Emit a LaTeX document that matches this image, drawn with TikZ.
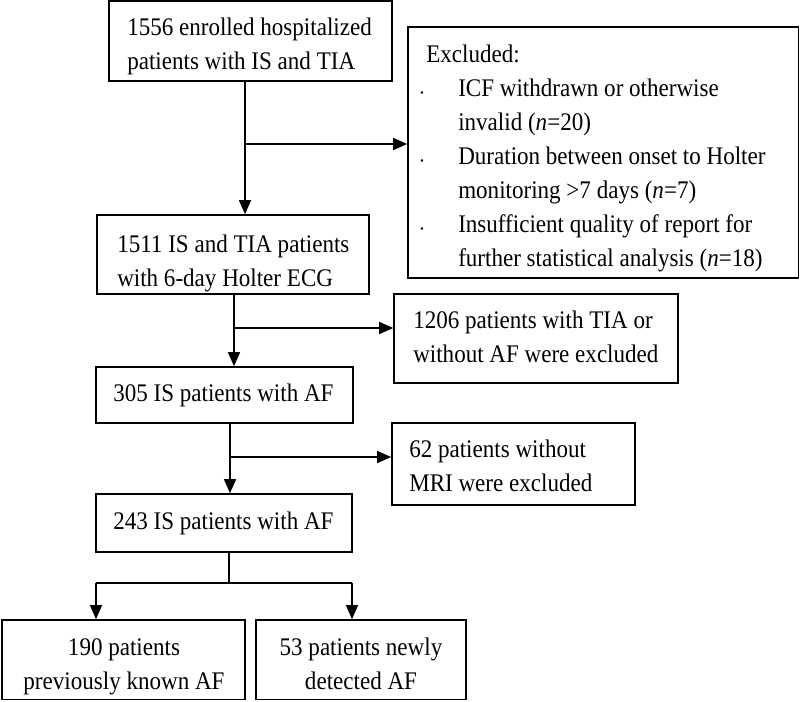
\documentclass[tikz,border=0pt]{standalone}
\usepackage{fontspec}
\setmainfont[FakeStretch=0.91]{Liberation Serif}
\usetikzlibrary{arrows.meta,fit}
\newlength\PX
\setlength\PX{0.75pt}
\newcommand\linesL[1]{\begin{tabular}{@{}l@{}}#1\end{tabular}}
\newcommand\linesC[1]{\begin{tabular}{@{}c@{}}#1\end{tabular}}
\newcommand\smallbul{{\fontsize{8}{8}\selectfont\textbullet}}
\begin{document}
\begin{tikzpicture}[x=0.75pt,y=-0.75pt,
  box/.style={draw=black, line width=1.2pt, inner sep=0pt},
  txt/.style={inner sep=0pt, text=black, font=\fontsize{19}{25.5}\selectfont},
  conn/.style={draw=black, line width=1pt},
  arr/.style={conn, -{Triangle[length=10.5pt,width=9pt]}}]
\useasboundingbox (0,0) rectangle (800,701);
% boxes
\node[box, fit={(109,1) (392,81)}] (b1) {};
\node[box, fit={(408,27) (798.5,278)}] (ex) {};
\node[box, fit={(97,215) (369,294)}] (b2) {};
\node[box, fit={(394,294) (678,383)}] (b1206) {};
\node[box, fit={(96,367) (353,423)}] (b305) {};
\node[box, fit={(392,423) (635,505)}] (b62) {};
\node[box, fit={(96,494) (352,552)}] (b243) {};
\node[box, fit={(2,620) (245,699.5)}] (b190) {};
\node[box, fit={(256,620) (466,699.5)}] (b53) {};
% texts
\node[txt, anchor=west] (t1) at (127,45.2) {\linesL{1556 enrolled hospitalized\\patients with IS and TIA}};
\node[txt, anchor=west] (t2) at (117,262.2) {\linesL{1511 IS and TIA patients\\with 6-day Holter ECG}};
\node[txt, anchor=west] (tex) at (420,157.2) {\begin{tabular}{@{}p{38\PX}@{}l@{}}
\multicolumn{2}{@{}l@{}}{\hspace*{6\PX}Excluded:}\\
\smallbul & ICF withdrawn or otherwise\\
 & invalid (\textit{n}=20)\\
\smallbul & Duration between onset to Holter\\
 & monitoring >7 days (\textit{n}=7)\\
\smallbul & Insufficient quality of report for\\
 & further statistical analysis (\textit{n}=18)
\end{tabular}};
\node[txt, anchor=west] (t1206) at (413,338.7) {\linesL{1206 patients with TIA or\\without AF were excluded}};
\node[txt, anchor=west] (t305) at (113,394.2) {\linesL{305 IS patients with AF}};
\node[txt, anchor=west] (t62) at (409,467.7) {\linesL{62 patients without\\MRI were excluded}};
\node[txt, anchor=west] (t243) at (113,522.2) {\linesL{243 IS patients with AF}};
\node[txt] (t190) at (124,665.7) {\linesC{190 patients\\previously known AF}};
\node[txt] (t53) at (361,665.7) {\linesC{53 patients newly\\detected AF}};
% junctions
\coordinate (j1) at (245,144);
\coordinate (j2) at (234,328);
\coordinate (j3) at (230,457);
\coordinate (j4) at (229,583);
\coordinate (k1) at (96,583);
\coordinate (k2) at (352,583);
% connectors
\draw[arr] (b1.south -| j1) -- (b2.north -| j1);
\draw[arr] (j1) -- (ex.west |- j1);
\draw[arr] (b2.south -| j2) -- (b305.north -| j2);
\draw[arr] (j2) -- (b1206.west |- j2);
\draw[arr] (b305.south -| j3) -- (b243.north -| j3);
\draw[arr] (j3) -- (b62.west |- j3);
\draw[conn] (b243.south -| j4) -- (j4);
\draw[conn] (k1) -- (k2);
\draw[arr] (k1) -- (b190.north -| k1);
\draw[arr] (k2) -- (b53.north -| k2);
\end{tikzpicture}
\end{document}
